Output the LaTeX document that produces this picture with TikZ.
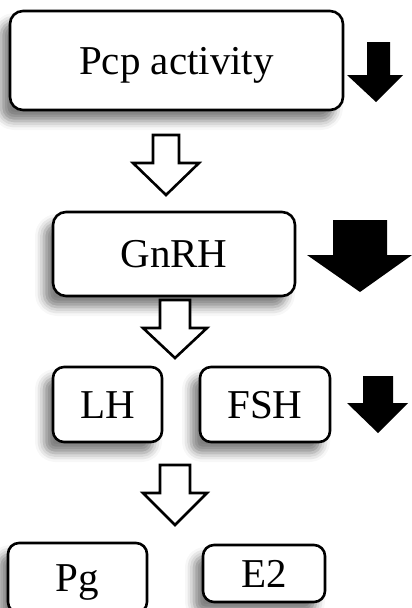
\documentclass[tikz,border=0pt]{standalone}
\usepackage{fontspec}
\setmainfont{Liberation Serif}
\usetikzlibrary{shadows.blur}
\begin{document}
\begin{tikzpicture}[x=1pt,y=1pt,
  box/.style={draw=black, line width=2.6pt, fill=white, rounded corners=13pt,
    font=\fontsize{41}{45}\selectfont, inner sep=0pt, text height=27pt, text depth=0pt,
    blur shadow={shadow xshift=-9pt, shadow yshift=-11pt, shadow blur radius=9pt, shadow opacity=50}},
  hollowarrow/.style={draw=black, line width=2.6pt, fill=white, line join=miter},
  blackarrow/.style={fill=black, draw=none}]
\useasboundingbox (0,0) rectangle (412,-608);
\clip (0,0) rectangle (412,-608);
% boxes
\node[box, minimum width=333pt, minimum height=99pt] (pcp) at (176.5,-60.5) {Pcp activity};
\node[box, minimum width=242pt, minimum height=84pt] (gnrh) at (174,-254) {GnRH};
\node[box, minimum width=109pt, minimum height=75pt, rounded corners=11pt] (lh) at (107.5,-404.5) {LH};
\node[box, minimum width=130pt, minimum height=75pt, rounded corners=11pt] (fsh) at (265,-404.5) {FSH};
\node[box, minimum width=139pt, minimum height=70pt, rounded corners=11pt] (pg) at (77.5,-578) {Pg};
\node[box, minimum width=122pt, minimum height=57pt, rounded corners=11pt] (e2) at (264,-573.5) {E2};
% hollow arrows
\draw[hollowarrow] (153,-135) -- (179,-135) -- (179,-163) -- (199,-163) -- (166,-195) -- (133,-163) -- (153,-163) -- cycle;
\draw[hollowarrow] (160,-300) -- (190,-300) -- (190,-328) -- (207,-328) -- (175,-358) -- (143,-328) -- (160,-328) -- cycle;
\draw[hollowarrow] (160,-465) -- (190,-465) -- (190,-493) -- (207,-493) -- (175,-525) -- (143,-493) -- (160,-493) -- cycle;
% black arrows
\fill[blackarrow] (367,-42) -- (390,-42) -- (390,-75) -- (403,-75) -- (376,-102) -- (347,-75) -- (367,-75) -- cycle;
\fill[blackarrow] (333,-220) -- (387,-220) -- (387,-255) -- (412,-255) -- (360,-292) -- (307,-255) -- (333,-255) -- cycle;
\fill[blackarrow] (363,-376) -- (393,-376) -- (393,-403) -- (408,-403) -- (378,-433) -- (347,-403) -- (363,-403) -- cycle;
\end{tikzpicture}
\end{document}
